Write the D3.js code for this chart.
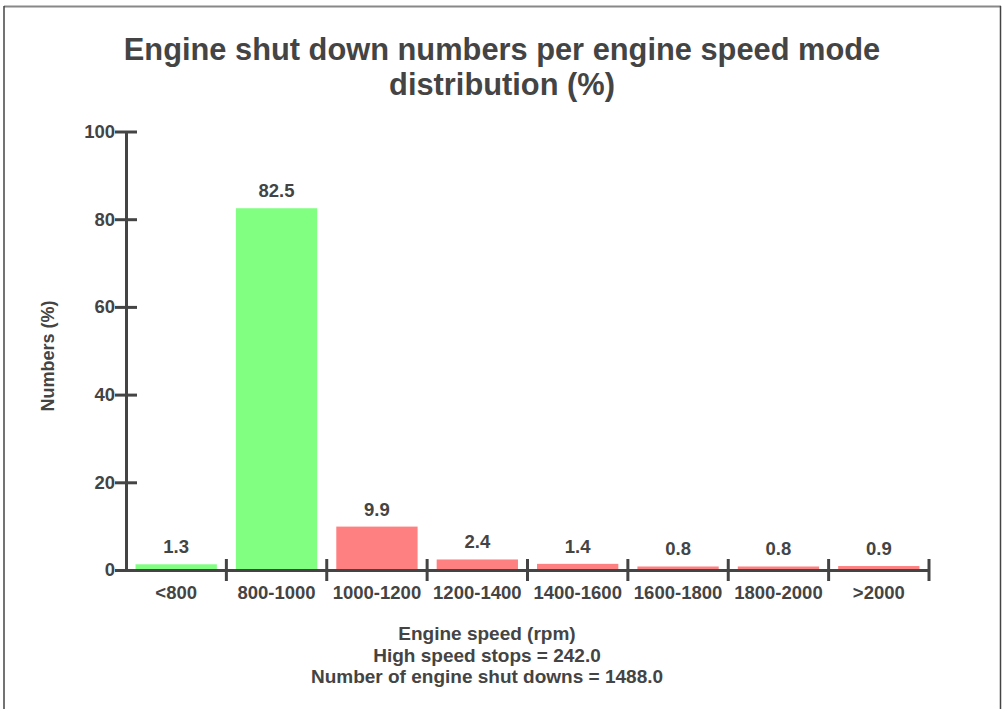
<!DOCTYPE html>
<html>
<head>
<meta charset="utf-8">
<script src="https://cdn.jsdelivr.net/npm/d3@7"></script>
<style>
  html, body { margin: 0; padding: 0; background: #fff; }
  svg { display: block; }
  text { font-family: "Liberation Sans", Arial, Helvetica, sans-serif; font-weight: bold; fill: #444; }
</style>
</head>
<body>
<svg id="chart" width="1002" height="709"></svg>
<script>
const categories = ["<800", "800-1000", "1000-1200", "1200-1400", "1400-1600", "1600-1800", "1800-2000", ">2000"];
const values = [1.3, 82.5, 9.9, 2.4, 1.4, 0.8, 0.8, 0.9];
const barColors = ["#80ff80", "#80ff80", "#ff8080", "#ff8080", "#ff8080", "#ff8080", "#ff8080", "#ff8080"];
const yTicks = [0, 20, 40, 60, 80, 100];
const titleLines = ["Engine shut down numbers per engine speed mode", "distribution (%)"];
const yLabel = "Numbers (%)";
const xLabelLines = ["Engine speed (rpm)", "High speed stops = 242.0", "Number of engine shut downs = 1488.0"];

const svg = d3.select("#chart");
const W = 1002, H = 709;
const axisColor = "#444";

// frame
svg.append("line").attr("x1", 4).attr("y1", 6.5).attr("x2", 1001).attr("y2", 6.5)
  .attr("stroke", "#888").attr("stroke-width", 2);
svg.append("line").attr("x1", 4).attr("y1", 6).attr("x2", 4).attr("y2", H)
  .attr("stroke", "#444").attr("stroke-width", 1.5);
svg.append("line").attr("x1", 1000.5).attr("y1", 6).attr("x2", 1000.5).attr("y2", H)
  .attr("stroke", "#444").attr("stroke-width", 1.5);

const pLeft = 126, pRight = 929, pTop = 131.5, pBottom = 570;

const x = d3.scaleBand().domain(categories).range([pLeft, pRight]).paddingInner(0.19).paddingOuter(0.095);
const xStep = d3.scaleBand().domain(categories).range([pLeft, pRight]);
const y = d3.scaleLinear().domain([0, 100]).range([pBottom, pTop]);

// title
svg.append("text").attr("text-anchor", "middle").style("font-size", "30.8px")
  .selectAll("tspan").data(titleLines).join("tspan")
  .attr("x", 502).attr("y", (d, i) => 60 + i * 35).text(d => d);

// bars
svg.append("g").selectAll("rect").data(values).join("rect")
  .attr("x", (d, i) => x(categories[i]))
  .attr("width", x.bandwidth())
  .attr("y", d => y(d))
  .attr("height", d => y(0) - y(d))
  .attr("fill", (d, i) => barColors[i]);

// value labels
svg.append("g").selectAll("text").data(values).join("text")
  .attr("x", (d, i) => x(categories[i]) + x.bandwidth() / 2)
  .attr("y", d => y(d) - 11)
  .attr("text-anchor", "middle")
  .style("font-size", "18.5px")
  .text(d => d.toFixed(1));

// y axis
const yAxis = d3.axisLeft(y).tickValues(yTicks).tickSize(11).tickPadding(0).tickSizeOuter(0);
const gy = svg.append("g").attr("transform", `translate(${pLeft},0)`).call(yAxis);
gy.attr("font-family", null).attr("font-size", null);
gy.select(".domain").attr("stroke", axisColor).attr("stroke-width", 3);
gy.selectAll(".tick line").attr("stroke", axisColor).attr("stroke-width", 3).attr("x2", 11).attr("x1", -11);
gy.selectAll(".tick text").attr("x", -11).style("font-size", "18.5px").attr("fill", "#444");

// x axis
const xAxis = d3.axisBottom(xStep).tickSize(0).tickPadding(0).tickSizeOuter(0);
const gx = svg.append("g").attr("transform", `translate(0,${pBottom})`).call(xAxis);
gx.attr("font-family", null).attr("font-size", null);
gx.select(".domain").attr("stroke", axisColor).attr("stroke-width", 3);
gx.selectAll(".tick text").attr("y", 28.5).attr("dy", null).style("font-size", "18.5px").attr("fill", "#444");
// separator ticks at band boundaries
const boundaries = categories.map(c => xStep(c)).slice(1).concat([pRight]);
gx.selectAll(".sep").data(boundaries).join("line").attr("class", "sep")
  .attr("x1", d => d).attr("x2", d => d).attr("y1", -11).attr("y2", 11)
  .attr("stroke", axisColor).attr("stroke-width", 3);

// y label
svg.append("text").attr("transform", "translate(54,356) rotate(-90)")
  .attr("text-anchor", "middle").style("font-size", "18px").text(yLabel);

// x labels
svg.append("text").attr("text-anchor", "middle").style("font-size", "19px")
  .selectAll("tspan").data(xLabelLines).join("tspan")
  .attr("x", 487).attr("y", (d, i) => 640 + i * 21.5).text(d => d);
</script>
</body>
</html>
